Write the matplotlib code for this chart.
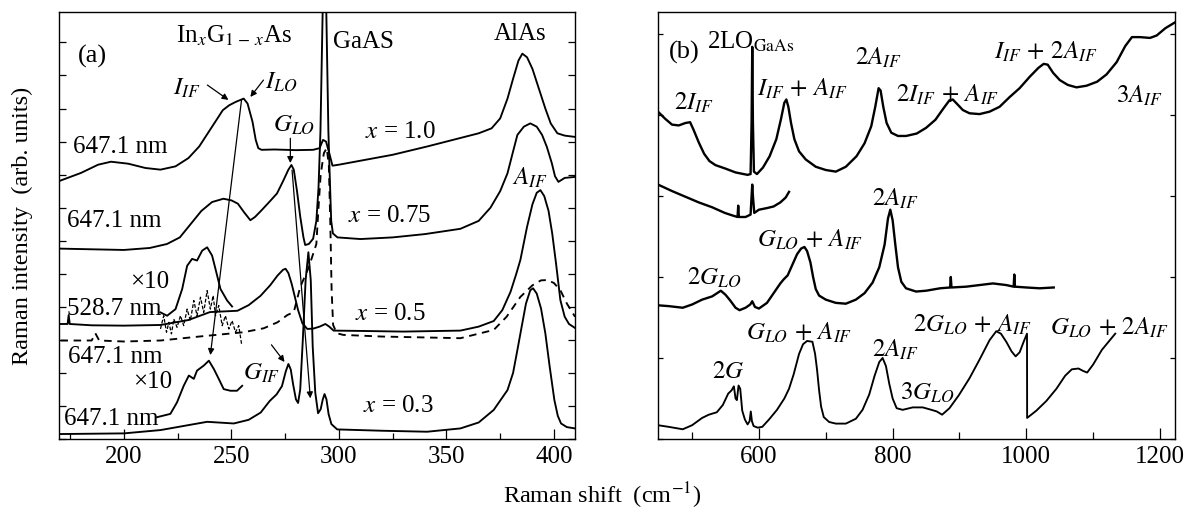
import matplotlib
matplotlib.use('Agg')
import matplotlib.pyplot as plt
from matplotlib.ticker import MultipleLocator, NullFormatter

plt.rcParams['font.family'] = ['Liberation Serif', 'DejaVu Serif']
plt.rcParams['mathtext.fontset'] = 'stix'
plt.rcParams['font.size'] = 18

# ---------------- panel (a) data ----------------
a10_x = [170.5, 180, 188, 194, 202, 210, 217, 224, 230, 235, 240, 243.3, 246, 249, 252, 255.7, 257.5, 259.8,
         261.3, 262.5, 264, 270, 280, 288, 291, 292.6, 294, 295.5, 297, 300, 310, 325, 341, 356, 365, 371, 375,
         378.4, 381, 383.5, 385.3, 387.5, 390, 393, 396, 398.5, 401.6, 405, 409.8]
a10_y = [7.82, 8.05, 8.3, 8.39, 8.33, 8.2, 8.15, 8.25, 8.5, 8.85, 9.35, 9.68, 9.95, 10.1, 10.2, 10.3, 10.15, 9.6,
         9.05, 8.8, 8.75, 8.76, 8.74, 8.75, 8.8, 9.05, 9.0, 8.65, 8.27, 8.3, 8.42, 8.6, 8.85, 9.1, 9.25, 9.4, 9.7,
         10.3, 10.9, 11.45, 11.66, 11.55, 11.2, 10.6, 10.0, 9.55, 9.25, 9.18, 9.14]

a075_x = [170.5, 185, 200, 212, 220, 226, 231, 236, 241, 246.3, 250, 253, 256, 258.8, 261, 264, 268, 271.2, 274,
          276.5, 277.9, 279, 280.5, 282, 283.5, 284.3, 286, 288, 289.5, 290.5, 291.4, 293.3, 295.1, 295.8, 296.4,
          297.2, 299.3, 310, 325, 340, 356.5, 365, 370.5, 375, 378.4, 381, 383, 386, 389, 392, 394.5, 396.7, 399,
          400.5, 402.1, 405, 409.8]
a075_y = [5.76, 5.74, 5.72, 5.78, 5.9, 6.1, 6.5, 6.9, 7.17, 7.27, 7.22, 7.12, 6.85, 6.62, 6.72, 6.92, 7.2, 7.43, 7.8,
          8.15, 8.29, 8.15, 7.5, 6.73, 6.1, 5.87, 5.9, 6.06, 6.6, 7.6, 9.3, 16.0, 9.3, 7.8, 6.6,
          6.22, 6.1, 6.05, 6.1, 6.2, 6.36, 6.6, 7.0, 7.5, 8.04, 8.7, 9.2, 9.45, 9.55, 9.45, 9.2, 8.84, 8.35,
          7.95, 7.78, 7.9, 7.93]

a05_x = [170.5, 173.8, 174.3, 174.8, 185, 200, 217, 230, 240, 252.8, 258, 263.5, 268, 271.5, 274, 275.2, 276.5,
         278, 279.5, 281, 283, 285.3, 288, 291, 293.7, 295.5, 297.5, 310, 330, 356.5, 365, 372, 376, 379.8, 382.5,
         384.4, 387.5, 390, 392, 393.7, 395.5, 397.5, 399.2, 401, 403, 405, 407, 409.8]
a05_y = [3.48, 3.48, 3.75, 3.48, 3.44, 3.43, 3.45, 3.6, 3.84, 3.88, 4.05, 4.33, 4.65, 4.95, 5.12, 5.15, 5.02,
         4.7, 4.3, 3.9, 3.5, 3.33, 3.34, 3.4, 3.48, 3.4, 3.28, 3.27, 3.25, 3.28, 3.4, 3.57, 3.9, 4.45, 5.0,
         5.42, 6.42, 7.1, 7.45, 7.53, 7.35, 6.9, 6.22, 5.3, 4.2, 3.7, 3.48, 3.36]

a05d_x = [170.5, 185, 186.7, 188.5, 200, 217, 235, 255.6, 265, 271.4, 276, 279, 282, 286, 289.5, 290.5, 291.5,
          293, 294.3, 295.3, 296.0, 296.6, 297.3, 299, 302, 320, 356.5, 372, 378, 384.4, 390, 394, 397, 400, 403,
          406, 409.8]
a05d_y = [2.98, 2.98, 3.2, 2.98, 2.95, 2.98, 3.1, 3.23, 3.35, 3.53, 3.75, 3.84, 4.6, 5.2, 5.9, 7.0, 8.0,
          8.65, 8.8, 8.3, 6.5, 4.5, 3.45, 3.2, 3.15, 3.1, 3.05, 3.3, 3.7, 4.3, 4.65, 4.8, 4.81, 4.72, 4.5,
          4.1, 3.7]

a05x10_x = [217.0, 220.1, 224.0, 227.1, 229.4, 231.7, 234.0, 236.4, 238.7, 241.0, 242.6, 244.9, 248.0, 250.3]
a05x10_y = [3.83, 3.73, 3.93, 4.54, 5.24, 5.45, 5.40, 5.70, 5.80, 5.55, 5.14, 4.54, 4.19, 4.01]

a05dx10_x = [217.0, 218.5, 219.8, 220.9, 222.1, 223.2, 224.7, 226.3, 227.8, 229.4, 230.9, 232.5, 234.0, 235.6,
             237.1, 238.7, 240.2, 241.5, 242.6, 244.1, 245.7, 247.2, 248.8, 250.3, 251.9, 253.4, 254.7]
a05dx10_y = [3.33, 3.73, 3.23, 3.53, 3.18, 3.63, 3.38, 3.73, 3.43, 3.93, 3.58, 4.19, 3.73, 4.29,
             3.83, 4.49, 3.93, 4.34, 3.73, 4.04, 3.43, 3.73, 3.33, 3.58, 3.23, 3.43, 2.88]

a03_x = [170.5, 200, 217, 230, 238.7, 251.1, 258, 263.6, 267.8, 271, 273.5, 275.3, 276.5, 277.6, 278.7, 280, 281,
         282, 283.2, 284.5, 285.8, 286.9, 287.8, 289, 290.3, 291.5, 292.5, 293.3, 294.2, 295.2, 296.5, 299.2, 320,
         341, 356.5, 365, 372, 378.4, 381, 383, 385, 387, 389, 390.3, 392, 394, 396, 398, 400.2, 401.8, 403.3,
         406, 409.8]
a03_y = [0.15, 0.17, 0.27, 0.42, 0.52, 0.47, 0.58, 0.8, 1.15, 1.35, 1.6, 2.05, 2.27, 2.1, 1.65, 1.2, 1.09,
         1.5, 3.0, 4.8, 5.65, 4.8, 2.8, 1.4, 0.78, 0.9, 1.2, 1.36, 1.2, 0.75, 0.45, 0.29, 0.25,
         0.22, 0.32, 0.5, 0.88, 1.48, 2.0, 2.69, 3.4, 4.1, 4.5, 4.56, 4.4, 3.95, 3.2, 2.2, 1.18, 0.7, 0.47,
         0.36, 0.32]

a03x10_x = [215.4, 221.6, 224.7, 227.8, 230.2, 232.5, 234.0, 237.1, 239.5, 241.8, 244.1, 246.4, 249.5, 252.6, 255.0]
a03x10_y = [0.66, 0.76, 1.11, 1.61, 1.92, 1.82, 2.07, 2.22, 2.37, 2.12, 1.82, 1.51, 1.46, 1.46, 1.61]

# ---------------- panel (b) data ----------------
b1_x = [449, 460, 470, 480, 490, 497, 502, 510, 518, 526, 535, 549, 565, 583, 587.5, 589, 590, 591, 592.5, 597,
        606, 616, 626, 633, 638, 641, 644, 648, 653, 660, 670, 685, 700, 715, 730, 746, 758, 768, 774, 779, 782,
        786, 791, 798, 808, 820, 836, 850, 864, 876, 885, 890, 897, 905, 915, 930, 945, 960, 975, 990, 1005,
        1018, 1026, 1032, 1040, 1050, 1062, 1075, 1090, 1106, 1120, 1135, 1148, 1158, 1170, 1185, 1195, 1208,
        1222]
b1_y = [4.04, 3.95, 3.88, 3.87, 3.9, 3.91, 3.82, 3.66, 3.52, 3.43, 3.38, 3.34, 3.29, 3.26, 3.27, 3.9, 4.84, 3.9,
        3.3, 3.27, 3.35, 3.49, 3.7, 3.95, 4.15, 4.19, 4.1, 3.9, 3.7, 3.55, 3.45, 3.36, 3.32, 3.30, 3.36, 3.49,
        3.65, 3.86, 4.1, 4.33, 4.3, 4.1, 3.9, 3.78, 3.74, 3.74, 3.77, 3.84, 3.94, 4.08, 4.18, 4.19, 4.13, 4.06,
        4.02, 4.01, 4.04, 4.1, 4.22, 4.33, 4.47, 4.58, 4.63, 4.62, 4.52, 4.43, 4.37, 4.34, 4.36, 4.41, 4.5, 4.65,
        4.85, 4.96, 4.96, 4.95, 4.98, 5.07, 5.14]

b2_x = [449, 470, 490, 510, 530, 549, 560, 568, 569, 570, 580, 587.5, 589, 590, 591, 593, 600, 612, 622, 632, 640,
        645]
b2_y = [3.14, 3.06, 2.99, 2.92, 2.86, 2.79, 2.76, 2.74, 2.88, 2.74, 2.74, 2.77, 3.0, 3.14, 3.0, 2.79, 2.83, 2.85,
        2.87, 2.92, 2.98, 3.05]

b3_x = [449, 465, 486, 500, 515, 530, 543, 550, 557, 565, 571, 580, 587, 590, 594, 600, 612, 622, 632, 637, 643,
        650, 657, 663, 668, 672, 677, 681, 685, 690, 700, 715, 730, 745, 758, 770, 780, 788, 793, 796.5, 800, 804,
        808, 813, 820, 835, 850, 871, 886, 887, 888, 910, 930, 950, 970, 981, 982, 983, 1000, 1020, 1041]
b3_y = [1.65, 1.64, 1.62, 1.66, 1.72, 1.76, 1.83, 1.78, 1.71, 1.62, 1.59, 1.62, 1.66, 1.7, 1.63, 1.61, 1.68, 1.8,
        1.92, 1.97, 2.02, 2.15, 2.28, 2.35, 2.37, 2.32, 2.18, 2.0, 1.85, 1.77, 1.72, 1.68, 1.67, 1.72, 1.80, 1.93,
        2.12, 2.4, 2.72, 2.83, 2.7, 2.4, 2.12, 1.94, 1.86, 1.82, 1.83, 1.86, 1.87, 2.0, 1.87, 1.88, 1.9, 1.92,
        1.9, 1.88, 2.03, 1.88, 1.87, 1.86, 1.87]

b4_x = [449, 465, 486, 500, 515, 525, 537, 546, 554, 559, 562.5, 565, 567, 569.5, 572, 575, 579, 583, 586, 587.8,
        589.5, 592, 598, 605, 615, 627, 638, 645, 652, 660, 666, 672, 680, 684, 687, 690, 693, 697, 705, 715, 730,
        745, 755, 765, 773, 780, 785, 790, 795, 800, 806, 815, 830, 845, 858, 866, 874, 885, 899, 915, 930, 945,
        955, 962, 970, 978, 984, 990, 996, 1001, 1001.2, 1015, 1030, 1045, 1058, 1068, 1078, 1085, 1091, 1100,
        1113, 1125, 1133]
b4_y = [0.17, 0.15, 0.12, 0.17, 0.26, 0.3, 0.33, 0.42, 0.56, 0.6, 0.65, 0.5, 0.48, 0.66, 0.62, 0.35, 0.24, 0.18,
        0.22, 0.34, 0.22, 0.16, 0.14, 0.15, 0.24, 0.36, 0.5, 0.62, 0.8, 1.05, 1.17, 1.21, 1.2, 1.05, 0.85, 0.6,
        0.4, 0.27, 0.21, 0.19, 0.19, 0.25, 0.36, 0.55, 0.78, 0.95, 1.0, 0.9, 0.68, 0.5, 0.38, 0.36, 0.39, 0.39,
        0.36, 0.34, 0.3, 0.38, 0.54, 0.75, 0.98, 1.22, 1.33, 1.3, 1.2, 1.08, 1.02, 1.07, 1.2, 1.3, 0.26, 0.35,
        0.47, 0.62, 0.78, 0.86, 0.87, 0.84, 0.82, 0.92, 1.1, 1.22, 1.3]

a_xticks = [200, 250, 300, 350, 400]
b_xticks = [600, 800, 1000, 1200]

W, H = 1186, 512
fig = plt.figure(figsize=(W / 100, H / 100), dpi=100)
axa = fig.add_axes([59 / W, 1 - 439 / H, (575 - 59) / W, (439 - 12) / H])
axb = fig.add_axes([658 / W, 1 - 439 / H, (1175 - 658) / W, (439 - 12) / H])

lw = 1.35
for ax in (axa, axb):
    for s in ax.spines.values():
        s.set_linewidth(1.0)
    ax.tick_params(which='both', direction='in', labelsize=18, width=0.9)
    ax.tick_params(axis='y', which='both', left=True, right=True, labelleft=False)
    ax.tick_params(axis='x', which='both', top=False, pad=5)
    ax.yaxis.set_major_formatter(NullFormatter())

# panel a
axa.plot(a10_x, a10_y, 'k-', lw=lw)
axa.plot(a075_x, a075_y, 'k-', lw=lw)
axa.plot(a05_x, a05_y, 'k-', lw=lw)
axa.plot(a05d_x, a05d_y, 'k--', lw=lw, dashes=(4, 3))
axa.plot(a05x10_x, a05x10_y, 'k-', lw=lw)
axa.plot(a05dx10_x, a05dx10_y, 'k--', lw=0.9, dashes=(3, 1.5))
axa.plot(a03_x, a03_y, 'k-', lw=lw)
axa.plot(a03x10_x, a03x10_y, 'k-', lw=lw)
axa.set_xlim(169.8, 409.8)
axa.set_ylim(0, 12.92)
axa.set_xticks(a_xticks)
axa.xaxis.set_minor_locator(MultipleLocator(25))
axa.yaxis.set_major_locator(MultipleLocator(1))
axa.tick_params(axis='x', which='major', length=7)
axa.tick_params(axis='x', which='minor', length=4)
axa.tick_params(axis='y', which='major', length=5)

ap = dict(arrowstyle='-|>', lw=0.9, color='k', mutation_scale=9, shrinkA=0, shrinkB=0)
axa.annotate('', xy=(248.6, 10.26), xytext=(238.8, 10.71), arrowprops=ap)
axa.annotate('', xy=(258.8, 10.35), xytext=(264.9, 10.86), arrowprops=ap)
axa.annotate('', xy=(240.2, 2.54), xytext=(254.7, 10.26), arrowprops=ap)
axa.annotate('', xy=(277.4, 8.35), xytext=(277.4, 9.1), arrowprops=ap)
axa.annotate('', xy=(286.7, 1.23), xytext=(278.2, 8.14), arrowprops=ap)
axa.annotate('', xy=(274.7, 2.33), xytext=(268.6, 2.85), arrowprops=ap)

def t(ax, x, y, s, fs=18):
    ax.text(x, y, s, ha='left', va='center', fontsize=fs)

t(axa, 178.4, 11.56, '(a)', 19)
t(axa, 224, 12.2, r'In$_x$G$_{1\,-\,x}$As')
t(axa, 297.4, 12.0, 'GaAS')
t(axa, 371.9, 12.25, 'AlAs')
t(axa, 222.6, 10.6, r'$I_{IF}$')
t(axa, 265.8, 10.8, r'$I_{LO}$')
t(axa, 269.5, 9.5, r'$G_{LO}$')
t(axa, 312.3, 9.29, r'$x$ = 1.0')
t(axa, 304, 6.75, r'$x$ = 0.75')
t(axa, 380.7, 7.9, r'$A_{IF}$')
t(axa, 176.5, 8.83, '647.1 nm')
t(axa, 173.7, 6.6, '647.1 nm')
t(axa, 203, 4.75, '×10')
t(axa, 173.7, 3.93, '528.7 nm')
t(axa, 307.7, 3.78, r'$x$ = 0.5')
t(axa, 174.2, 2.48, '647.1 nm')
t(axa, 204, 1.72, '×10')
t(axa, 255.6, 2.0, r'$G_{IF}$')
t(axa, 311.4, 1.0, r'$x$ = 0.3')
t(axa, 171.9, 0.6, '647.1 nm')

# panel b
for xs, ys in ((b1_x, b1_y), (b2_x, b2_y), (b3_x, b3_y)):
    axb.plot(xs, ys, 'k-', lw=1.7)
axb.plot(b4_x, b4_y, 'k-', lw=lw)
axb.set_xlim(449, 1222.4)
axb.set_ylim(0, 5.27)
axb.set_xticks(b_xticks)
axb.xaxis.set_minor_locator(MultipleLocator(100))
axb.yaxis.set_major_locator(MultipleLocator(1))
axb.tick_params(axis='x', which='major', length=8)
axb.tick_params(axis='x', which='minor', length=5)
axb.tick_params(axis='y', which='major', length=3.5)

t(axb, 465, 4.77, '(b)', 19)
t(axb, 523, 4.9, r'2LO$_{\mathrm{GaAs}}$')
t(axb, 472.5, 4.15, r'$2I_{IF}$')
t(axb, 596.8, 4.32, r'$I_{IF}\,+\,A_{IF}$')
t(axb, 743.6, 4.7, r'$2A_{IF}$')
t(axb, 805, 4.25, r'$2I_{IF}\,+\,A_{IF}$')
t(axb, 952, 4.78, r'$I_{IF}\,+\,2A_{IF}$')
t(axb, 1134.6, 4.23, r'$3A_{IF}$')
t(axb, 768.6, 2.96, r'$2A_{IF}$')
t(axb, 596.8, 2.46, r'$G_{LO}\,+\,A_{IF}$')
t(axb, 492.7, 1.99, r'$2G_{LO}$')
t(axb, 830.5, 1.41, r'$2G_{LO}\,+\,A_{IF}$')
t(axb, 1035.8, 1.37, r'$G_{LO}\,+\,2A_{IF}$')
t(axb, 580, 1.31, r'$G_{LO}\,+\,A_{IF}$')
t(axb, 768.6, 1.1, r'$2A_{IF}$')
t(axb, 529.4, 0.83, r'$2G$')
t(axb, 811, 0.57, r'$3G_{LO}$')

fig.text(602 / W, 1 - 496 / H, r'Raman shift  (cm$^{-1}$)', ha='center', va='center', fontsize=17.5)
fig.text(22 / W, 1 - 226 / H, 'Raman intensity  (arb. units)', ha='center', va='center',
         rotation=90, fontsize=17.5)

fig.savefig('out.png', dpi=100)
